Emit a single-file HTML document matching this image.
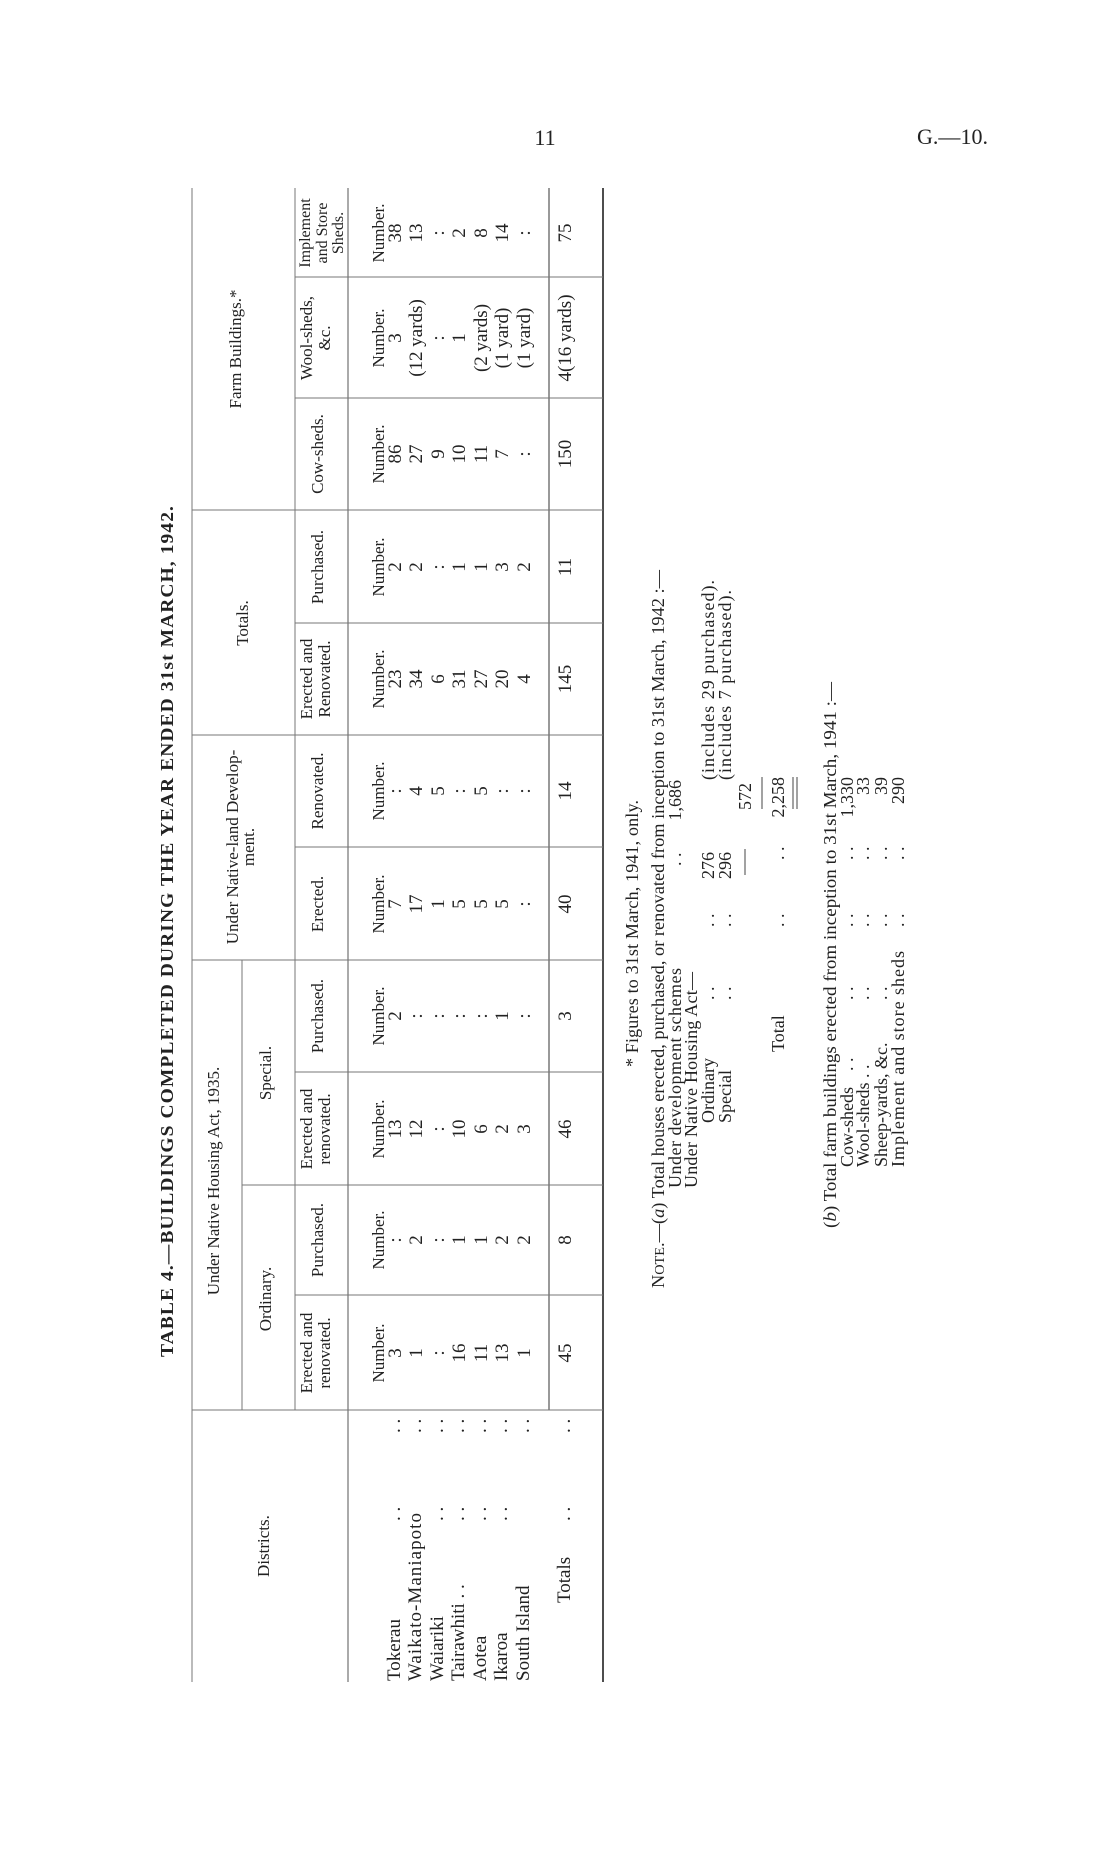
<!DOCTYPE html>
<html><head><meta charset="utf-8"><style>
html,body{margin:0;padding:0;background:#fff;}
svg{display:block;}
text{font-family:"Liberation Serif",serif;fill:#222;}
.h{font-size:17px;text-anchor:middle;}
.d{font-size:19px;text-anchor:middle;}
.n{font-size:18px;}
.r{text-anchor:end;}
</style></head><body>
<svg width="1114" height="1871" viewBox="0 0 1114 1871" xmlns="http://www.w3.org/2000/svg">
<rect width="1114" height="1871" fill="#fff"/>
<text x="545" y="145" style="font-size:22px;text-anchor:middle">11</text>
<text x="917" y="144" style="font-size:22px" textLength="71">G.—10.</text>
<g transform="translate(0,1871) rotate(-90)">
<text x="514" y="173" style="font-size:18px;font-weight:bold;letter-spacing:1px" textLength="852" lengthAdjust="spacingAndGlyphs">TABLE 4.—BUILDINGS COMPLETED DURING THE YEAR ENDED 31st MARCH, 1942.</text>
<g stroke="#777" stroke-width="1" fill="none">
<line x1="189" y1="192" x2="1683" y2="192"/>
<line x1="461" y1="242" x2="911" y2="242"/>
<line x1="461" y1="295" x2="1683" y2="295"/>
<line x1="189" y1="348" x2="1683" y2="348" stroke="#555"/>
<line x1="461" y1="549" x2="1683" y2="549" stroke="#333"/>
<line x1="189" y1="603" x2="1683" y2="603" stroke="#222" stroke-width="1.6"/>
<line x1="461" y1="192" x2="461" y2="603"/>
<line x1="576" y1="295" x2="576" y2="603"/>
<line x1="686" y1="242" x2="686" y2="603"/>
<line x1="799" y1="295" x2="799" y2="603"/>
<line x1="911" y1="192" x2="911" y2="603"/>
<line x1="1024" y1="295" x2="1024" y2="603"/>
<line x1="1136" y1="192" x2="1136" y2="603"/>
<line x1="1248" y1="295" x2="1248" y2="603"/>
<line x1="1361" y1="192" x2="1361" y2="603"/>
<line x1="1473" y1="295" x2="1473" y2="603"/>
<line x1="1594" y1="295" x2="1594" y2="603"/>
</g>
<text class="h" x="325" y="269">Districts.</text>
<text class="h" x="690" y="219">Under Native Housing Act, 1935.</text>
<text class="h" x="572" y="271">Ordinary.</text>
<text class="h" x="798" y="271">Special.</text>
<text class="h" x="518" y="312">Erected and</text><text class="h" x="518" y="330">renovated.</text>
<text class="h" x="631" y="323">Purchased.</text>
<text class="h" x="742" y="312">Erected and</text><text class="h" x="742" y="330">renovated.</text>
<text class="h" x="855" y="323">Purchased.</text>
<text class="h" x="1024" y="238">Under Native-land Develop-</text>
<text class="h" x="1024" y="254">ment.</text>
<text class="h" x="967" y="323">Erected.</text>
<text class="h" x="1080" y="323">Renovated.</text>
<text class="h" x="1248" y="248">Totals.</text>
<text class="h" x="1192" y="312">Erected and</text><text class="h" x="1192" y="330">Renovated.</text>
<text class="h" x="1304" y="323">Purchased.</text>
<text class="h" x="1522" y="241">Farm Buildings.*</text>
<text class="h" x="1417" y="323">Cow-sheds.</text>
<text class="h" x="1533" y="312">Wool-sheds,</text><text class="h" x="1533" y="330">&amp;c.</text>
<text class="h" x="1638" y="310" style="font-size:16px">Implement</text>
<text class="h" x="1638" y="327" style="font-size:16px">and Store</text>
<text class="h" x="1638" y="343" style="font-size:16px">Sheds.</text>
<text class="h" x="518" y="384">Number.</text><text class="h" x="631" y="384">Number.</text>
<text class="h" x="742" y="384">Number.</text><text class="h" x="855" y="384">Number.</text>
<text class="h" x="967" y="384">Number.</text><text class="h" x="1080" y="384">Number.</text>
<text class="h" x="1192" y="384">Number.</text><text class="h" x="1304" y="384">Number.</text>
<text class="h" x="1417" y="384">Number.</text><text class="h" x="1533" y="384">Number.</text>
<text class="h" x="1638" y="384">Number.</text>
<g style="font-size:19px">
<text x="190" y="400">Tokerau</text><text x="350" y="400">. .</text><text x="438" y="400">. .</text>
<text x="190" y="421" textLength="168">Waikato-Maniapoto</text><text x="438" y="421">. .</text>
<text x="190" y="443">Waiariki</text><text x="350" y="443">. .</text><text x="438" y="443">. .</text>
<text x="190" y="464">Tairawhiti . .</text><text x="350" y="464">. .</text><text x="438" y="464">. .</text>
<text x="190" y="486">Aotea</text><text x="350" y="486">. .</text><text x="438" y="486">. .</text>
<text x="190" y="507">Ikaroa</text><text x="350" y="507">. .</text><text x="438" y="507">. .</text>
<text x="190" y="529">South Island</text><text x="438" y="529">. .</text>
<text x="268" y="570">Totals</text><text x="350" y="570">. .</text><text x="438" y="570">. .</text>
</g>
<g>
<text class="d" x="518" y="401">3</text><text class="d" x="518" y="422">1</text><text class="d" x="518" y="444">:</text><text class="d" x="518" y="465">16</text><text class="d" x="518" y="487">11</text><text class="d" x="518" y="508">13</text><text class="d" x="518" y="530">1</text><text class="d" x="518" y="571">45</text>
<text class="d" x="631" y="401">:</text><text class="d" x="631" y="422">2</text><text class="d" x="631" y="444">:</text><text class="d" x="631" y="465">1</text><text class="d" x="631" y="487">1</text><text class="d" x="631" y="508">2</text><text class="d" x="631" y="530">2</text><text class="d" x="631" y="571">8</text>
<text class="d" x="742" y="401">13</text><text class="d" x="742" y="422">12</text><text class="d" x="742" y="444">:</text><text class="d" x="742" y="465">10</text><text class="d" x="742" y="487">6</text><text class="d" x="742" y="508">2</text><text class="d" x="742" y="530">3</text><text class="d" x="742" y="571">46</text>
<text class="d" x="855" y="401">2</text><text class="d" x="855" y="422">:</text><text class="d" x="855" y="444">:</text><text class="d" x="855" y="465">:</text><text class="d" x="855" y="487">:</text><text class="d" x="855" y="508">1</text><text class="d" x="855" y="530">:</text><text class="d" x="855" y="571">3</text>
<text class="d" x="967" y="401">7</text><text class="d" x="967" y="422">17</text><text class="d" x="967" y="444">1</text><text class="d" x="967" y="465">5</text><text class="d" x="967" y="487">5</text><text class="d" x="967" y="508">5</text><text class="d" x="967" y="530">:</text><text class="d" x="967" y="571">40</text>
<text class="d" x="1080" y="401">:</text><text class="d" x="1080" y="422">4</text><text class="d" x="1080" y="444">5</text><text class="d" x="1080" y="465">:</text><text class="d" x="1080" y="487">5</text><text class="d" x="1080" y="508">:</text><text class="d" x="1080" y="530">:</text><text class="d" x="1080" y="571">14</text>
<text class="d" x="1192" y="401">23</text><text class="d" x="1192" y="422">34</text><text class="d" x="1192" y="444">6</text><text class="d" x="1192" y="465">31</text><text class="d" x="1192" y="487">27</text><text class="d" x="1192" y="508">20</text><text class="d" x="1192" y="530">4</text><text class="d" x="1192" y="571">145</text>
<text class="d" x="1304" y="401">2</text><text class="d" x="1304" y="422">2</text><text class="d" x="1304" y="444">:</text><text class="d" x="1304" y="465">1</text><text class="d" x="1304" y="487">1</text><text class="d" x="1304" y="508">3</text><text class="d" x="1304" y="530">2</text><text class="d" x="1304" y="571">11</text>
<text class="d" x="1417" y="401">86</text><text class="d" x="1417" y="422">27</text><text class="d" x="1417" y="444">9</text><text class="d" x="1417" y="465">10</text><text class="d" x="1417" y="487">11</text><text class="d" x="1417" y="508">7</text><text class="d" x="1417" y="530">:</text><text class="d" x="1417" y="571">150</text>
<text class="d" x="1533" y="401">3</text><text class="d" x="1533" y="422">(12 yards)</text><text class="d" x="1533" y="444">:</text><text class="d" x="1533" y="465">1</text><text class="d" x="1533" y="487">(2 yards)</text><text class="d" x="1533" y="508">(1 yard)</text><text class="d" x="1533" y="530">(1 yard)</text><text class="d" x="1533" y="571">4(16 yards)</text>
<text class="d" x="1638" y="401">38</text><text class="d" x="1638" y="422">13</text><text class="d" x="1638" y="444">:</text><text class="d" x="1638" y="465">2</text><text class="d" x="1638" y="487">8</text><text class="d" x="1638" y="508">14</text><text class="d" x="1638" y="530">:</text><text class="d" x="1638" y="571">75</text>
</g>
<g>
<text class="n" x="804" y="638" textLength="267">* Figures to 31st March, 1941, only.</text>
<text class="n" x="583" y="664" textLength="718" lengthAdjust="spacingAndGlyphs">N<tspan style="font-size:14px">OTE</tspan>.—(<tspan font-style="italic">a</tspan>) Total houses erected, purchased, or renovated from inception to 31st March, 1942 :—</text>
<text class="n" x="683" y="681" textLength="220">Under development schemes</text><text class="n" x="1005" y="681">. .</text><text class="n r" x="1091" y="681">1,686</text>
<text class="n" x="683" y="697" textLength="216">Under Native Housing Act—</text>
<text class="n" x="748" y="714">Ordinary</text><text class="n" x="871" y="714">. .</text><text class="n" x="944" y="714">. .</text><text class="n r" x="1019" y="714">276</text>
<text class="n" x="1091" y="714" textLength="200">(includes 29 purchased).</text>
<text class="n" x="748" y="731">Special</text><text class="n" x="871" y="731">. .</text><text class="n" x="944" y="731">. .</text><text class="n r" x="1019" y="731">296</text>
<text class="n" x="1091" y="731" textLength="190">(includes 7 purchased).</text>
<line x1="996" y1="745" x2="1022" y2="745" stroke="#444"/>
<text class="n r" x="1088" y="751">572</text>
<line x1="1062" y1="762" x2="1094" y2="762" stroke="#444"/>
<text class="n" x="819" y="784">Total</text><text class="n" x="944" y="784">. .</text><text class="n" x="1011" y="784">. .</text><text class="n r" x="1094" y="784">2,258</text>
<line x1="1062" y1="793" x2="1094" y2="793" stroke="#444"/>
<line x1="1062" y1="797" x2="1094" y2="797" stroke="#444"/>
<text class="n" x="643" y="836" textLength="546" lengthAdjust="spacingAndGlyphs">(<tspan font-style="italic">b</tspan>) Total farm buildings erected from inception to 31st March, 1941 :—</text>
<text class="n" x="704" y="853">Cow-sheds</text><text class="n" x="800" y="853">. .</text><text class="n" x="871" y="853">. .</text><text class="n" x="944" y="853">. .</text><text class="n" x="1011" y="853">. .</text><text class="n r" x="1094" y="853">1,330</text>
<text class="n" x="704" y="869">Wool-sheds . .</text><text class="n" x="871" y="869">. .</text><text class="n" x="944" y="869">. .</text><text class="n" x="1011" y="869">. .</text><text class="n r" x="1094" y="869">33</text>
<text class="n" x="704" y="887">Sheep-yards, &amp;c.</text><text class="n" x="871" y="887">. .</text><text class="n" x="944" y="887">. .</text><text class="n" x="1011" y="887">. .</text><text class="n r" x="1094" y="887">39</text>
<text class="n" x="704" y="904" textLength="216">Implement and store sheds</text><text class="n" x="944" y="904">. .</text><text class="n" x="1011" y="904">. .</text><text class="n r" x="1094" y="904">290</text>
</g>
</g>
</svg>
</body></html>
